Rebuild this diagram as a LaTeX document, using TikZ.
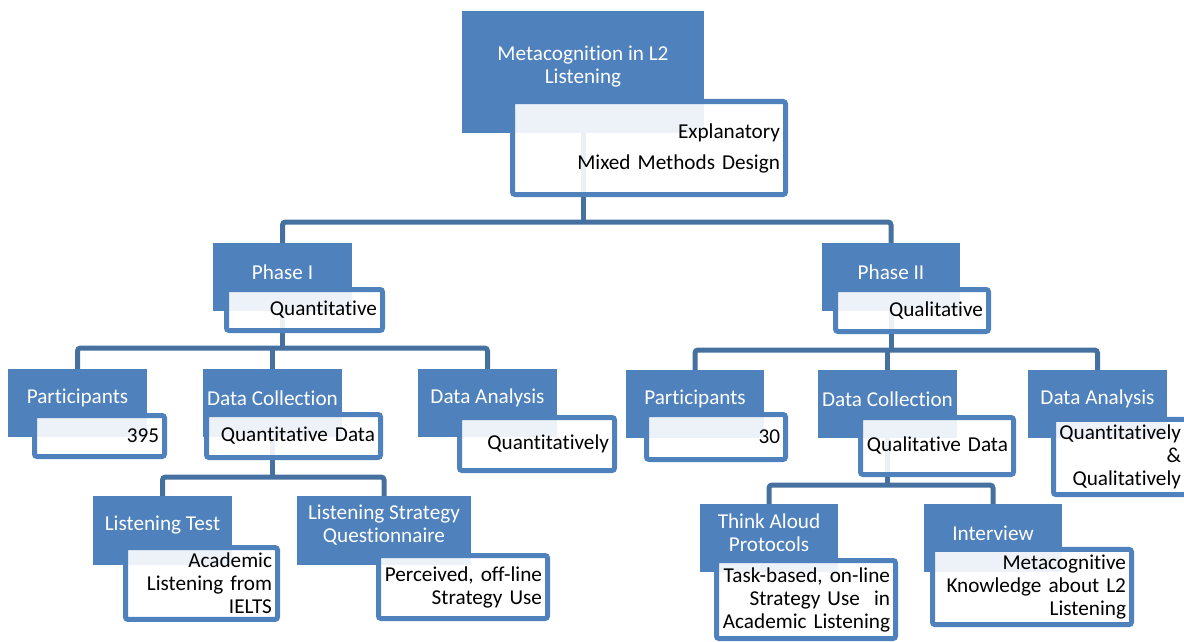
\documentclass[tikz,border=0pt]{standalone}
\usepackage{fontspec}
\setmainfont{Carlito}[Ligatures=NoCommon]
\definecolor{boxblue}{HTML}{4F81BD}
\definecolor{linkblue}{HTML}{46709F}
\pgfdeclarelayer{background}
\pgfsetlayers{background,main}
\newcommand{\labelfont}{\fontsize{21.2}{23}\selectfont}
\begin{document}
\begin{tikzpicture}[x=1pt,y=-1pt,
  hdr/.style={fill=boxblue, draw=none, inner sep=0pt, outer sep=0pt},
  hdrtext/.style={text=white, align=center, font=\labelfont, inner sep=0pt},
  desc/.style={fill=white, fill opacity=0.9, text opacity=1, draw=boxblue,
    line width=5pt, rounded corners=2.5pt, inner sep=5.5pt, outer sep=0pt,
    align=right, font=\labelfont, text=black},
  conn/.style={draw=linkblue, line width=5pt, rounded corners=3pt}
]
\useasboundingbox (0,0) rectangle (1184,642);
\clip (0,0) rectangle (1184,642);

% ---- top level ----
\node[hdr, minimum width=242pt, minimum height=122pt] (root) at (583,72) {};
\node[hdrtext] at ([yshift=5pt]root.center) {Metacognition in L2\\Listening};

% ---- phases ----
\node[hdr, minimum width=139pt, minimum height=68pt] (p1) at (282.5,277) {};
\node[hdrtext] at ([yshift=5pt]p1.center) {Phase I};
\node[hdr, minimum width=138pt, minimum height=68pt] (p2) at (891,277) {};
\node[hdrtext] at ([yshift=5pt]p2.center) {Phase II};

% ---- phase I children ----
\node[hdr, minimum width=139pt, minimum height=68pt] (partL) at (77.5,403) {};
\node[hdrtext] at ([yshift=5pt]partL.center) {Participants};
\node[hdr, minimum width=139pt, minimum height=68pt] (dcL) at (272.5,403) {};
\node[hdrtext] at ([yshift=5pt]dcL.center) {Data Collection};
\node[hdr, minimum width=139pt, minimum height=68pt] (daL) at (487.5,403) {};
\node[hdrtext] at ([yshift=5pt]daL.center) {Data Analysis};

% ---- phase II children ----
\node[hdr, minimum width=138pt, minimum height=68pt] (partR) at (695,404) {};
\node[hdrtext] at ([yshift=5pt]partR.center) {Participants};
\node[hdr, minimum width=139pt, minimum height=68pt] (dcR) at (887.5,404) {};
\node[hdrtext] at ([yshift=5pt]dcR.center) {Data Collection};
\node[hdr, minimum width=139pt, minimum height=68pt] (daR) at (1097.5,404) {};
\node[hdrtext] at ([yshift=5pt]daR.center) {Data Analysis};

% ---- instruments ----
\node[hdr, minimum width=139pt, minimum height=69pt] (lt) at (162.5,530.5) {};
\node[hdrtext] at ([yshift=5pt]lt.center) {Listening Test};
\node[hdr, minimum width=174pt, minimum height=69pt] (lsq) at (384,530.5) {};
\node[hdrtext] at ([yshift=5pt]lsq.center) {Listening Strategy\\Questionnaire};
\node[hdr, minimum width=138pt, minimum height=68pt] (ta) at (769,538) {};
\node[hdrtext] at ([yshift=5pt]ta.center) {Think Aloud\\Protocols};
\node[hdr, minimum width=138pt, minimum height=68pt] (iv) at (993,538) {};
\node[hdrtext] at ([yshift=5pt]iv.center) {Interview};

% ---- description boxes ----
\node[desc, minimum width=273pt, text width=262pt, minimum height=93pt] (rootw) at (649,148)
  {Explanatory\\[8pt]Mixed Methods Design};
\node[desc, minimum width=156pt, text width=145pt, minimum height=41pt] (p1w) at (304.5,310) {Quantitative};
\node[desc, minimum width=153pt, text width=142pt, minimum height=42pt] (p2w) at (912,310.5) {Qualitative};
\node[desc, minimum width=130pt, text width=119pt, minimum height=41pt] (partLw) at (99.5,436) {395};
\node[desc, minimum width=174pt, text width=163pt, minimum height=43pt] (dcLw) at (293.5,436) {Quantitative Data};
\node[desc, minimum width=155pt, text width=144pt, minimum height=53pt] (daLw) at (537,444) {Quantitatively};
\node[desc, minimum width=139pt, text width=128pt, minimum height=45pt] (partRw) at (716,437) {30};
\node[desc, minimum width=153pt, text width=142pt, minimum height=57pt] (dcRw) at (937,446) {Qualitative Data};
\node[desc, minimum width=133pt, text width=122pt, minimum height=71pt] (daRw) at (1120,457)
  {Quantitatively\\\&\\Qualitatively};
\node[desc, minimum width=152pt, text width=141pt, minimum height=64pt] (ltw) at (201.5,583.5)
  {Academic\\Listening from\\IELTS};
\node[desc, minimum width=169pt, text width=158pt, minimum height=63pt] (lsqw) at (463,587)
  {Perceived, off-line\\Strategy Use};
\node[desc, minimum width=179pt, text width=168pt, minimum height=78pt] (taw) at (806,599.5)
  {Task-based, on-line\\Strategy Use~ in\\Academic Listening};
\node[desc, minimum width=199pt, text width=188pt, minimum height=69pt] (ivw) at (1032,587)
  {Metacognitive\\Knowledge about L2\\Listening};

% ---- connectors, behind the boxes ----
\begin{pgfonlayer}{background}
  \coordinate (b0) at (583,222);
  \coordinate (b1) at (282.5,348);
  \coordinate (b2) at (891,350);
  \coordinate (b3) at (272.5,477);
  \coordinate (b4) at (887.5,485);
  \draw[conn] (root.south) -- (b0);
  \draw[conn] (p1.north) |- (b0) -| (p2.north);
  \draw[conn] (p1.south) -- (b1);
  \draw[conn] (partL.north) |- (b1) -| (daL.north);
  \draw[conn] (dcL.north) -- (dcL.north |- b1);
  \draw[conn] (p2.south) -- (b2);
  \draw[conn] (partR.north) |- (b2) -| (daR.north);
  \draw[conn] (dcR.north) -- (dcR.north |- b2);
  \draw[conn] (dcL.south) -- (b3);
  \draw[conn] (lt.north) |- (b3) -| (lsq.north);
  \draw[conn] (dcR.south) -- (b4);
  \draw[conn] (ta.north) |- (b4) -| (iv.north);
\end{pgfonlayer}
\end{tikzpicture}
\end{document}
